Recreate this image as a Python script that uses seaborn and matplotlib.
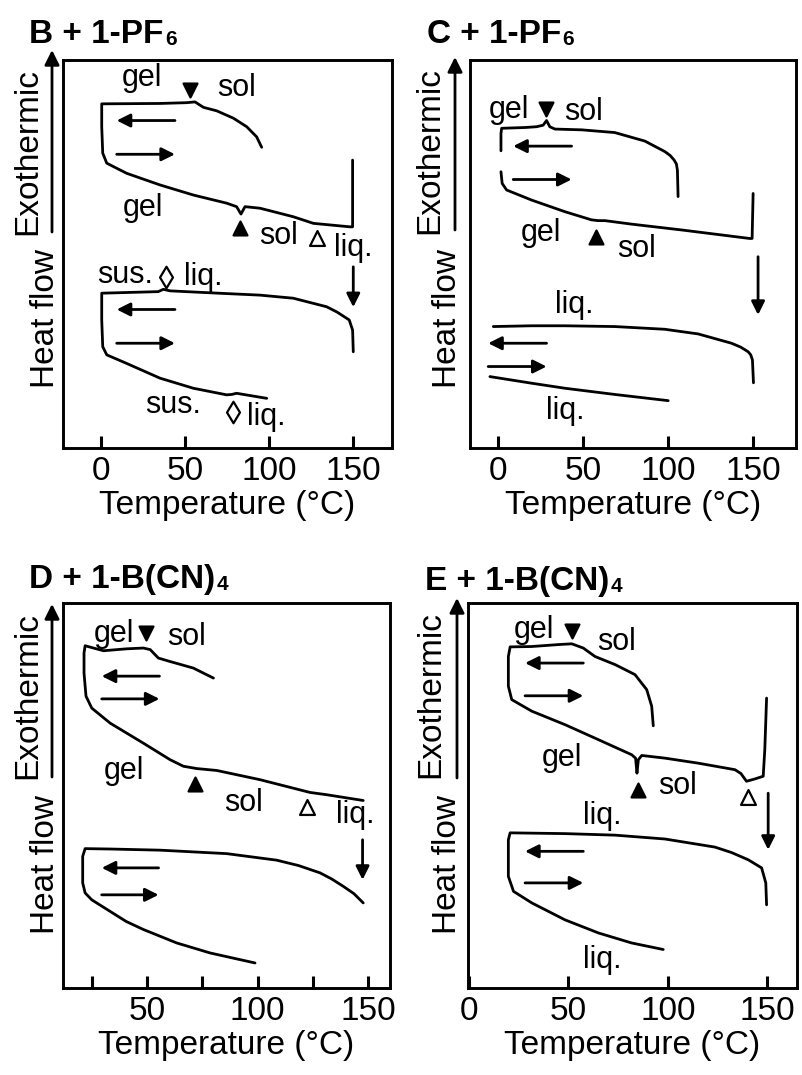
import numpy as np
import pandas as pd
import matplotlib
matplotlib.use("Agg")
import matplotlib.pyplot as plt
from matplotlib.patches import FancyArrowPatch
import seaborn as sns

sns.set_theme(style="white")
plt.rcParams["font.family"] = ["Liberation Sans", "DejaVu Sans"]
plt.rcParams["axes.edgecolor"] = "black"
plt.rcParams["text.color"] = "black"
plt.rcParams["axes.labelcolor"] = "black"
plt.rcParams["xtick.color"] = "black"
plt.rcParams["ytick.color"] = "black"

# ---------------- data (temperature in degC, heat flow in a.u. 0-100) ----------------
# Panel B + 1-PF6
B_up_T = [95.6, 92.6, 86.7, 78.8, 68.9, 61.0, 56.0, 51.1, 35.2, 0.6, 0.6, 1.2, 3.6, 15.4, 35.2,
          55.0, 74.8, 80.7, 83.3, 85.7, 94.6, 114.4, 126.3, 148.0, 149.6, 149.6]
B_up_Y = [77.5, 80.2, 82.8, 85.0, 86.9, 87.8, 89.2, 89.0, 88.8, 88.7, 82.8, 76.0, 73.4, 70.8, 67.8,
          65.2, 63.1, 62.2, 60.3, 62.2, 61.8, 59.6, 57.9, 57.0, 57.0, 74.2]
B_lo_T = [150.0, 149.6, 147.6, 140.5, 134.2, 114.4, 94.6, 64.9, 41.2, 37.2, 34.2, 0.6, 0.6, 1.2, 3.6,
          15.4, 35.2, 55.0, 74.8, 77.8, 80.7, 98.6]
B_lo_Y = [24.8, 30.4, 33.0, 35.0, 36.4, 38.6, 39.4, 40.0, 40.5, 40.9, 40.3, 39.9, 33.0, 26.1, 24.0,
          21.8, 18.0, 15.4, 13.7, 13.8, 14.1, 12.8]
B_labels = [("gel", 24.3, 95.3), ("sol", 80.7, 92.7), ("gel", 25.3, 61.8), ("sol", 105.5, 54.6),
            ("liq.", 150.0, 51.5), ("sus.", 14.4, 44.6), ("liq.", 61.0, 44.2),
            ("sus.", 43.1, 11.1), ("liq.", 98.6, 8.1)]
B_marks = [("v", 53.0, 92.3), ("^", 82.7, 56.6), ("^o", 128.2, 54.0), ("d", 38.8, 44.2), ("d", 78.4, 9.4)]
B_arrows = [(44.1, 84.4, 9.5, 84.4), (9.5, 75.7, 44.1, 75.7), (44.1, 35.7, 9.5, 35.7),
            (9.5, 27.0, 44.1, 27.0), (150.0, 46.7, 150.0, 36.3)]

# Panel C + 1-PF6
C_up1_T = [105.7, 105.3, 104.7, 103.4, 101.0, 97.9, 86.2, 68.5, 49.0, 33.3, 30.3, 28.4, 26.4, 22.5,
           15.7, 2.0, 1.6, 1.6]
C_up1_Y = [64.8, 71.6, 73.2, 74.2, 75.4, 76.4, 79.1, 81.3, 82.0, 82.2, 82.8, 84.4, 83.2, 82.8,
           82.6, 82.4, 81.1, 76.6]
C_up2_T = [1.6, 2.3, 4.9, 19.6, 39.2, 54.8, 58.7, 62.7, 78.3, 107.7, 147.8, 149.2, 149.8]
C_up2_Y = [71.2, 68.2, 66.5, 63.9, 60.9, 58.8, 58.6, 58.6, 57.7, 56.2, 54.0, 54.0, 65.6]
C_lo1_T = [150.0, 149.4, 148.4, 146.9, 142.5, 137.1, 117.5, 97.9, 68.5, 39.2, 19.6, -2.9]
C_lo1_Y = [16.8, 22.7, 24.0, 24.8, 26.0, 27.0, 29.4, 30.6, 31.3, 31.5, 31.5, 31.3]
C_lo2_T = [-4.9, 19.6, 39.2, 68.5, 99.9]
C_lo2_Y = [18.4, 16.7, 15.4, 13.8, 12.2]
C_labels = [("gel", 6.3, 87.1), ("sol", 49.9, 86.7), ("gel", 25.1, 55.3), ("sol", 81.3, 51.2),
            ("liq.", 44.6, 36.9), ("liq.", 39.6, 9.6)]
C_marks = [("v", 27.8, 87.5), ("^", 57.4, 54.5)]
C_arrows = [(43.1, 77.8, 8.8, 77.8), (8.8, 69.2, 43.1, 69.2), (28.4, 27.0, -5.9, 27.0),
            (-5.9, 21.0, 28.4, 21.0), (152.7, 49.3, 152.7, 34.3)]

# Panel D + 1-B(CN)4
D_up_T = [80.0, 70.9, 60.4, 55.1, 51.4, 48.3, 40.8, 30.3, 25.8, 22.0, 21.5, 21.5, 22.4, 25.0, 33.3,
          48.3, 60.4, 66.4, 72.4, 81.5, 101.1, 116.1, 123.6, 131.2, 147.7]
D_up_Y = [80.5, 83.1, 84.8, 85.7, 87.9, 88.3, 88.1, 87.6, 88.3, 88.9, 87.0, 81.8, 75.8, 72.7, 68.8,
          63.6, 59.3, 57.6, 57.0, 56.5, 54.1, 51.9, 50.8, 50.2, 48.7]
D_lo_T = [147.7, 143.5, 138.7, 133.5, 128.2, 118.5, 108.6, 86.0, 55.9, 33.3, 22.0, 20.9, 20.9, 22.0,
          25.0, 33.3, 40.5, 48.3, 63.4, 78.5, 98.8]
D_lo_Y = [22.1, 24.5, 26.4, 28.3, 29.9, 31.8, 33.2, 34.9, 35.8, 36.1, 36.2, 34.2, 27.3, 24.7,
          22.9, 19.9, 17.3, 15.2, 11.7, 9.1, 6.5]
D_labels = [("gel", 34.8, 92.0), ("sol", 67.8, 91.2), ("gel", 39.6, 56.3), ("sol", 93.8, 48.1),
            ("liq.", 144.3, 45.0)]
D_marks = [("v", 49.5, 92.2), ("^", 71.7, 53.0), ("^o", 122.1, 47.0)]
D_arrows = [(55.6, 81.0, 29.5, 81.0), (29.5, 75.1, 55.6, 75.1), (55.2, 31.2, 29.5, 31.2),
            (29.5, 24.2, 55.2, 24.2), (147.4, 38.5, 147.4, 28.1)]

# Panel E + 1-B(CN)4
E_up_T = [92.7, 91.9, 89.4, 83.5, 73.5, 63.4, 57.5, 51.7, 45.0, 31.6, 20.7, 19.8, 19.8, 21.5, 31.6,
          48.3, 65.1, 81.8, 83.8, 84.5, 85.2, 86.9, 98.6, 115.3, 133.8, 136.8, 139.6, 143.8, 148.0,
          148.8, 149.7]
E_up_Y = [68.1, 73.2, 77.5, 81.4, 84.0, 86.1, 88.3, 89.4, 89.2, 88.7, 88.6, 86.1, 78.4, 74.9, 71.9,
          68.4, 64.5, 60.6, 59.7, 55.8, 59.3, 60.4, 59.7, 58.4, 56.7, 55.7, 53.7, 54.3, 55.0,
          61.9, 75.3]
E_lo_T = [149.7, 149.3, 147.2, 140.5, 132.0, 123.7, 98.6, 73.5, 48.3, 20.7, 19.8, 19.8, 22.4, 31.6,
          48.3, 65.1, 81.8, 97.7]
E_lo_Y = [21.6, 27.3, 31.2, 33.3, 35.2, 36.6, 38.7, 39.7, 40.1, 40.3, 38.5, 29.0, 25.1, 22.1,
          17.7, 14.3, 11.7, 10.0]
E_labels = [("gel", 32.7, 93.1), ("sol", 74.3, 90.0), ("gel", 47.0, 59.7), ("sol", 104.8, 52.4),
            ("liq.", 67.1, 44.8), ("liq.", 67.1, 7.2)]
E_marks = [("v", 51.7, 92.6), ("^", 84.8, 51.5), ("^o", 140.1, 49.6)]
E_arrows = [(57.5, 84.4, 28.2, 84.4), (28.2, 75.9, 57.5, 75.9), (57.5, 35.5, 28.2, 35.5),
            (28.2, 27.3, 57.5, 27.3), (150.5, 50.6, 150.5, 35.9)]

titles = ["B + 1-PF", "C + 1-PF", "D + 1-B(CN)", "E + 1-B(CN)"]
title_subs = ["6", "6", "4", "4"]
xlabel = "Temperature (°C)"
ylabel_low = "Heat flow"
ylabel_high = "Exothermic"

# ---------------- layout ----------------
W, H = 802, 1075
fig = plt.figure(figsize=(W / 100, H / 100), dpi=100)


def frac(l, t, r, b):
    return [l / W, 1 - b / H, (r - l) / W, (b - t) / H]


panels = [
    dict(box=(63, 60, 392, 448), xlim=(-22.4, 173), ticks=[0, 50, 100, 150],
         tl=["0", "50", "100", "150"],
         curves=[(B_up_T, B_up_Y), (B_lo_T, B_lo_Y)], labels=B_labels, marks=B_marks, arrows=B_arrows,
         title_xy=(29, 43), exo=(28, 152), hf=(46, 319), yarrow=(52, 232, 50)),
    dict(box=(470, 60, 796, 448), xlim=(-16.6, 175), ticks=[0, 50, 100, 150],
         tl=["0", "50", "100", "150"],
         curves=[(C_up1_T, C_up1_Y), (C_up2_T, C_up2_Y), (C_lo1_T, C_lo1_Y), (C_lo2_T, C_lo2_Y)],
         labels=C_labels, marks=C_marks, arrows=C_arrows,
         title_xy=(427, 43), exo=(430, 151), hf=(447, 319), yarrow=(455, 230, 57)),
    dict(box=(63, 603, 390, 988), xlim=(12.0, 159.8), ticks=[25, 50, 75, 100, 125, 150],
         tl=["", "50", "", "100", "", "150"],
         curves=[(D_up_T, D_up_Y), (D_lo_T, D_lo_Y)], labels=D_labels, marks=D_marks, arrows=D_arrows,
         title_xy=(29, 588), exo=(28, 696), hf=(46, 864), yarrow=(52, 777, 604)),
    dict(box=(468, 603, 797, 988), xlim=(-0.5, 165), ticks=[0, 50, 100, 150],
         tl=["0", "50", "100", "150"],
         curves=[(E_up_T, E_up_Y), (E_lo_T, E_lo_Y)], labels=E_labels, marks=E_marks, arrows=E_arrows,
         title_xy=(425, 590), exo=(431, 695), hf=(447, 864), yarrow=(457, 778, 598)),
]

LW = 2.0
for i, p in enumerate(panels):
    ax = fig.add_axes(frac(*p["box"]))
    rows = []
    for s, (T, Y) in enumerate(p["curves"]):
        for t, y in zip(T, Y):
            rows.append((s, t, y))
    df = pd.DataFrame(rows, columns=["seg", "T", "Y"])
    sns.lineplot(data=df, x="T", y="Y", units="seg", estimator=None, sort=False,
                 color="black", lw=LW, ax=ax, legend=False)

    mk = pd.DataFrame(p["marks"], columns=["kind", "T", "Y"])
    for kind, m, fc, s in [("v", "v", "black", 100), ("^", "^", "black", 100),
                           ("^o", "^", "white", 115), ("d", "d", "white", 120)]:
        sub = mk[mk["kind"] == kind]
        if len(sub):
            sns.scatterplot(data=sub, x="T", y="Y", marker=m, s=s, color=fc,
                            edgecolor="black", linewidth=1.6, ax=ax, legend=False, zorder=5)

    for (t0, y0, t1, y1) in p["arrows"]:
        ax.annotate("", xy=(t1, y1), xytext=(t0, y0),
                    arrowprops=dict(arrowstyle="-|>", color="black", lw=LW,
                                    mutation_scale=20, shrinkA=0, shrinkB=0))
    for (txt, t, y) in p["labels"]:
        ax.text(t, y, txt, ha="center", va="center", fontsize=22, color="black")

    ax.set_xlim(*p["xlim"])
    ax.set_ylim(0, 100)
    ax.set_yticks([])
    ax.set_xticks(p["ticks"])
    ax.set_xticklabels(p["tl"])
    ax.tick_params(axis="x", direction="in", length=9, width=2.2, labelsize=24, pad=6,
                   colors="black", bottom=True)
    ax.set_xlabel(xlabel, fontsize=24, labelpad=2, color="black")
    ax.set_ylabel("")
    for sp in ax.spines.values():
        sp.set_linewidth(2.1)
        sp.set_color("black")

    tx, ty = p["title_xy"]
    t = fig.text(tx / W, 1 - ty / H, titles[i], fontsize=24, fontweight="bold",
                 ha="left", va="baseline", color="black")
    plt.annotate(title_subs[i], xy=(1, 0), xycoords=t, xytext=(1, 1),
                 textcoords="offset points", fontsize=15, fontweight="bold",
                 ha="left", va="bottom", annotation_clip=False, color="black")

    ex, ey = p["exo"]
    fig.text(ex / W, 1 - ey / H, ylabel_high, rotation=90, fontsize=24, ha="center", va="center",
             color="black")
    hx, hy = p["hf"]
    fig.text(hx / W, 1 - hy / H, ylabel_low, rotation=90, fontsize=24, ha="center", va="center",
             color="black")
    axx, ay0, ay1 = p["yarrow"]
    fig.add_artist(FancyArrowPatch((axx / W, 1 - ay0 / H), (axx / W, 1 - ay1 / H),
                                   transform=fig.transFigure, arrowstyle="-|>",
                                   mutation_scale=22, lw=LW, color="black",
                                   shrinkA=0, shrinkB=0))

fig.savefig("out.png", dpi=100)
